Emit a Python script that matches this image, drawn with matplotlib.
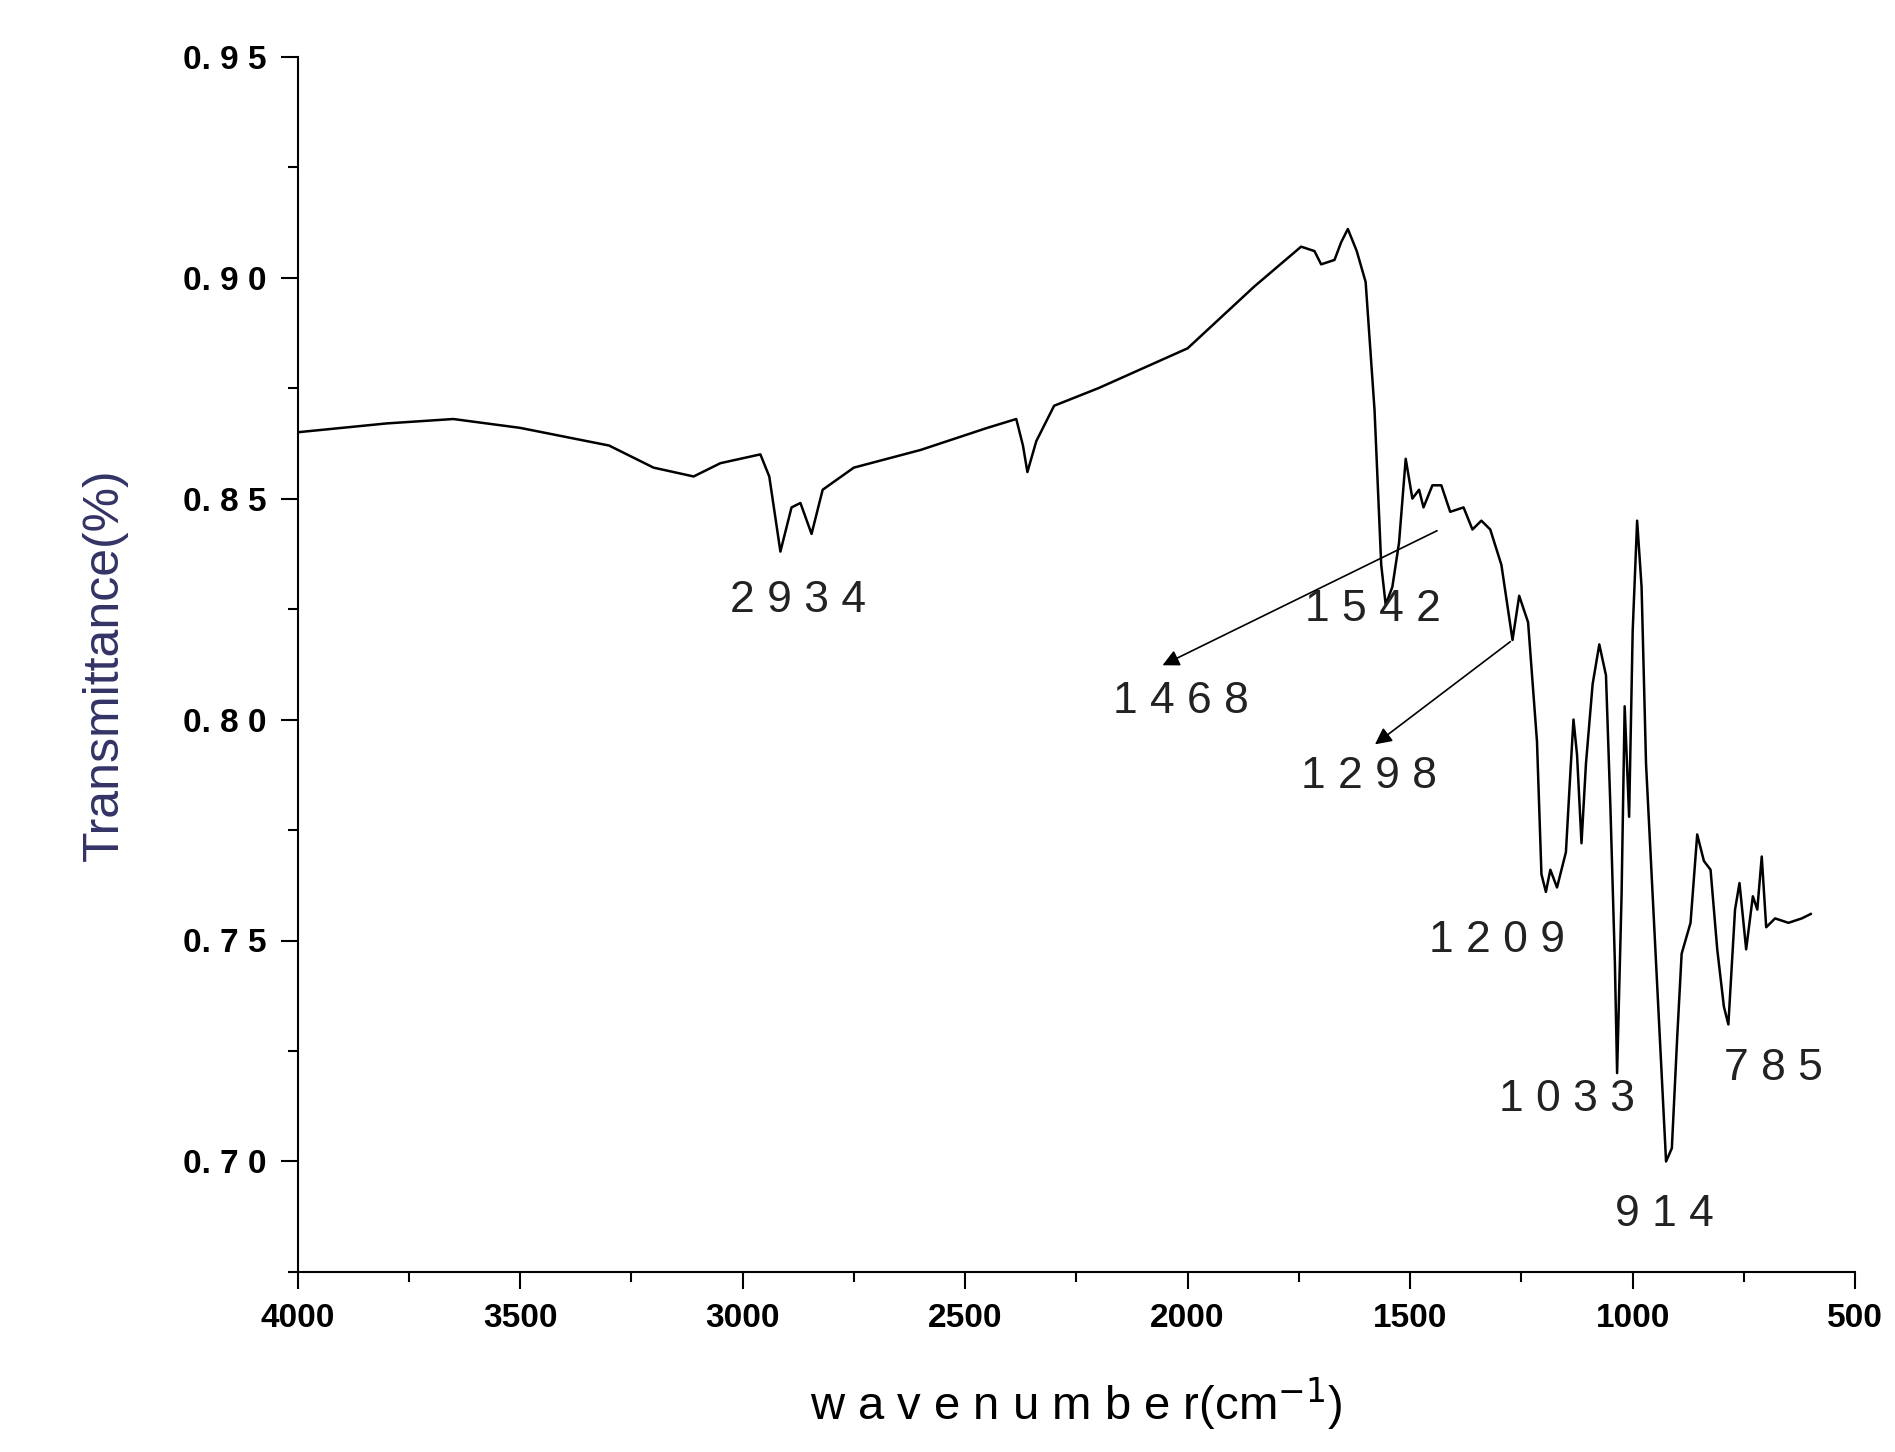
import matplotlib
matplotlib.use('Agg')
import matplotlib.pyplot as plt
from matplotlib.ticker import MultipleLocator

plt.rcParams['font.family'] = ['Liberation Sans', 'DejaVu Sans']

wavenumber = [4000, 3800, 3650, 3500, 3300, 3200, 3110, 3050, 2960, 2940, 2915, 2890, 2870,
              2845, 2820, 2750, 2600, 2450, 2385, 2370, 2360, 2340, 2300, 2200, 2000, 1850,
              1745, 1715, 1700, 1670, 1655, 1640, 1620, 1600, 1580, 1565, 1555, 1540, 1525,
              1510, 1495, 1480, 1470, 1450, 1430, 1410, 1380, 1360, 1340, 1320, 1295, 1270,
              1255, 1235, 1215, 1205, 1195, 1185, 1170, 1150, 1140, 1133, 1125, 1115, 1105,
              1090, 1075, 1060, 1050, 1040, 1035, 1025, 1018, 1008, 1000, 990, 980, 970, 955,
              940, 925, 912, 900, 890, 870, 855, 840, 825, 810, 795, 785, 770, 760, 745, 730,
              720, 710, 700, 680, 650, 620, 600]
transmittance = [0.865, 0.867, 0.868, 0.866, 0.862, 0.857, 0.855, 0.858, 0.860, 0.855, 0.838,
                 0.848, 0.849, 0.842, 0.852, 0.857, 0.861, 0.866, 0.868, 0.862, 0.856, 0.863,
                 0.871, 0.875, 0.884, 0.898, 0.907, 0.906, 0.903, 0.904, 0.908, 0.911, 0.906,
                 0.899, 0.870, 0.835, 0.826, 0.830, 0.840, 0.859, 0.850, 0.852, 0.848, 0.853,
                 0.853, 0.847, 0.848, 0.843, 0.845, 0.843, 0.835, 0.818, 0.828, 0.822, 0.795,
                 0.765, 0.761, 0.766, 0.762, 0.770, 0.788, 0.800, 0.792, 0.772, 0.790, 0.808,
                 0.817, 0.810, 0.780, 0.745, 0.720, 0.760, 0.803, 0.778, 0.820, 0.845, 0.830,
                 0.790, 0.760, 0.730, 0.700, 0.703, 0.728, 0.747, 0.754, 0.774, 0.768, 0.766,
                 0.748, 0.735, 0.731, 0.757, 0.763, 0.748, 0.760, 0.757, 0.769, 0.753, 0.755,
                 0.754, 0.755, 0.756]

peak_labels = ['2934', '1542', '1468', '1298', '1209', '1033', '914', '785']
label_x = [2875, 1584, 2015, 1592, 1305, 1147, 929, 683]
label_y = [0.827, 0.825, 0.804, 0.787, 0.750, 0.714, 0.688, 0.721]

fig = plt.figure(figsize=(18.95, 14.52), dpi=100)
ax = fig.add_axes([0.157, 0.124, 0.822, 0.837])
ax.plot(wavenumber, transmittance, color='black', lw=1.8)

for t, x, y in zip(peak_labels, label_x, label_y):
    ax.text(x, y, '  '.join(t).replace('  ', ' '), fontsize=32, ha='center', va='center', color='#222222')

ax.annotate('', xy=(2062, 0.812), xytext=(1434, 0.843),
            arrowprops=dict(arrowstyle='-|>', color='black', lw=1.2, mutation_scale=25))
ax.annotate('', xy=(1584, 0.794), xytext=(1270, 0.818),
            arrowprops=dict(arrowstyle='-|>', color='black', lw=1.2, mutation_scale=25))

ax.set_xlim(4000, 500)
ax.set_ylim(0.675, 0.95)
ax.xaxis.set_major_locator(MultipleLocator(500))
ax.xaxis.set_minor_locator(MultipleLocator(250))
ax.yaxis.set_major_locator(MultipleLocator(0.05))
ax.yaxis.set_minor_locator(MultipleLocator(0.025))
ax.yaxis.set_major_formatter(plt.FuncFormatter(lambda v, p: '0. %d %d' % (int(round(v*100)) // 10, int(round(v*100)) % 10)))
ax.spines['top'].set_visible(False)
ax.spines['right'].set_visible(False)
ax.spines['left'].set_linewidth(1.5)
ax.spines['bottom'].set_linewidth(1.5)
ax.tick_params(which='major', length=12, width=1.5, labelsize=24, pad=10)
ax.tick_params(which='minor', length=7, width=1.5)
for lab in ax.get_xticklabels() + ax.get_yticklabels():
    lab.set_fontweight('bold')
ax.set_xlabel('w a v e n u m b e r(cm$^{-1}$)', fontsize=34, labelpad=30)
ax.set_ylabel('Transmittance(%)', fontsize=36, color='#333366', labelpad=40)

plt.savefig('out.png')
